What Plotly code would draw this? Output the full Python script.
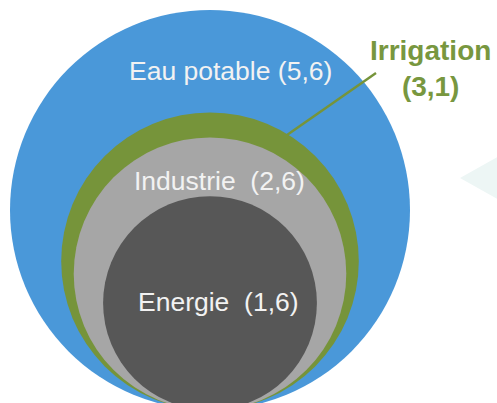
import math
import plotly.graph_objects as go

# Data
categories = ["Eau potable", "Irrigation", "Industrie", "Energie"]
values = [5.6, 3.1, 2.6, 1.6]
value_labels = ["(5,6)", "(3,1)", "(2,6)", "(1,6)"]
colors = ["#4A98D9", "#76943A", "#A6A6A6", "#575757"]

W, H = 497, 403
k = 200 / math.sqrt(max(values))  # px per unit (area-proportional circles)
cx_px, base_px = 210, 410

def X(px):
    return (px - cx_px) / k

def Y(py):
    return (base_px - py) / k

fig = go.Figure()
fig.add_trace(go.Scatter(x=[0], y=[0], mode="markers", marker=dict(opacity=0), hoverinfo="skip", showlegend=False))

shapes = []
# background triangle
shapes.append(dict(type="path", xref="x", yref="y",
                   path=f"M {X(460)} {Y(178)} L {X(540)} {Y(133)} L {X(540)} {Y(223)} Z",
                   fillcolor="#EDF6F5", line=dict(width=0), layer="below"))
for v, c in zip(values, colors):
    r = math.sqrt(v)
    shapes.append(dict(type="circle", xref="x", yref="y", x0=-r, x1=r, y0=0, y1=2 * r,
                       fillcolor=c, line=dict(width=0), layer="above"))
# leader line for Irrigation
shapes.append(dict(type="line", xref="x", yref="y", x0=X(287), y0=Y(135), x1=X(376), y1=Y(73),
                   line=dict(color=colors[1], width=2.5), layer="above"))

font_w = dict(family="Liberation Sans, Arial, sans-serif", size=26.5, color="#F2F2F2")
annotations = [
    dict(x=X(230), y=Y(71), text=f"{categories[0]} {value_labels[0]}", font=font_w),
    dict(x=X(219), y=Y(181), text=f"{categories[2]}\u00a0\u00a0{value_labels[2]}", font=font_w),
    dict(x=X(218), y=Y(302), text=f"{categories[3]}\u00a0\u00a0{value_labels[3]}", font=font_w),
    dict(x=X(430), y=Y(68), text=f"<b>{categories[1]}</b><br><b>{value_labels[1]}</b>",
         font=dict(family="Liberation Sans, Arial, sans-serif", size=28, color="#78973F")),
]
for a in annotations:
    a.update(xref="x", yref="y", showarrow=False, xanchor="center", yanchor="middle")

fig.update_layout(
    width=W, height=H, margin=dict(l=0, r=0, t=0, b=0),
    paper_bgcolor="white", plot_bgcolor="white",
    xaxis=dict(range=[X(0), X(W)], visible=False, fixedrange=True),
    yaxis=dict(range=[Y(H), Y(0)], visible=False, fixedrange=True),
    shapes=shapes, annotations=annotations, showlegend=False,
)
fig.write_html("out.html", config={"displayModeBar": False},
               post_script="document.body.style.margin='0';document.body.style.overflow='hidden';")
